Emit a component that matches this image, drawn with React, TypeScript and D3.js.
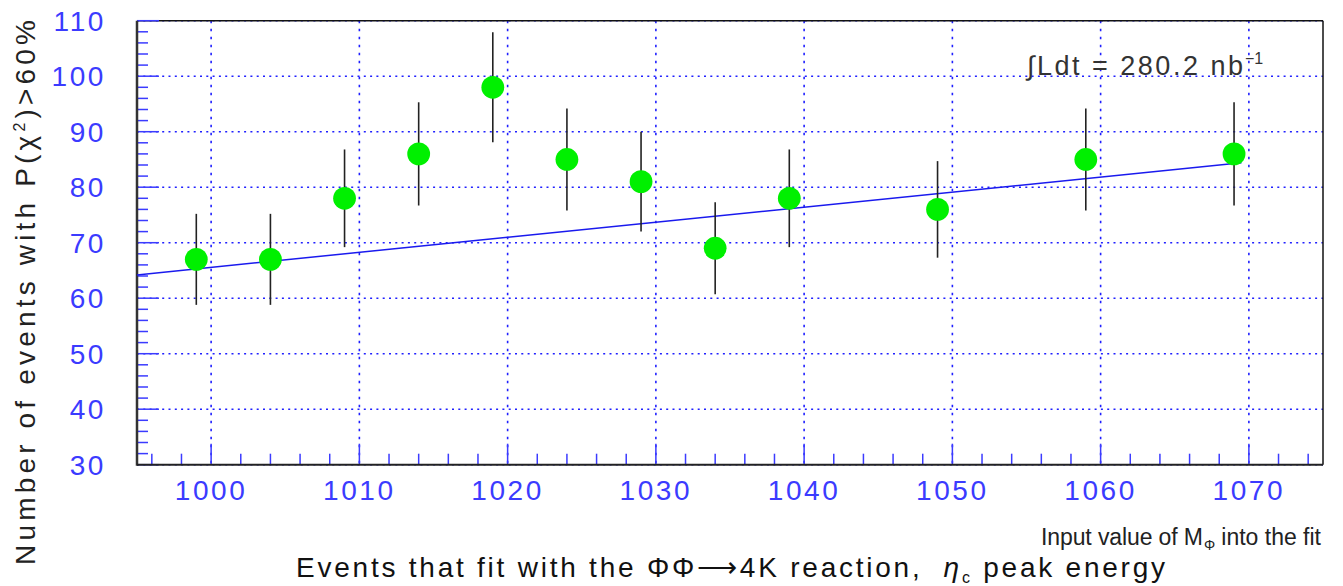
import React from "react";
import * as d3 from "d3";

const massValues = [999, 1004, 1009, 1014, 1019, 1024, 1029, 1034, 1039, 1049, 1059, 1069];
const eventCounts = [67, 67, 78, 86, 98, 85, 81, 69, 78, 76, 85, 86];
const eventErrors = [8.2, 8.2, 8.8, 9.3, 9.9, 9.2, 9.0, 8.3, 8.8, 8.7, 9.2, 9.3];
const fitX = [995, 1069.5];
const fitY = [64.2, 84.4];
const xTicks = [1000, 1010, 1020, 1030, 1040, 1050, 1060, 1070];
const yTicks = [30, 40, 50, 60, 70, 80, 90, 100, 110];

const W = 1343;
const H = 586;
const L = 137, R = 1323, T = 20.7, B = 464.7;
const FONT = "'Liberation Sans', Arial, sans-serif";

export default function App() {
  const x = d3.scaleLinear().domain([995, 1075]).range([L, R]);
  const y = d3.scaleLinear().domain([30, 110]).range([B, T]);
  const xMinor = d3.range(996, 1075, 2).filter((v) => v % 10 !== 0);
  const yMinor = d3.range(32, 110, 2).filter((v) => v % 10 !== 0);
  const line = d3
    .line<number>()
    .x((d) => x(d))
    .y((_, i) => y(fitY[i]));
  const blue = "#3b3bff";
  return (
    <svg
      width={W}
      height={H}
      style={{ position: "absolute", left: 0, top: 0, background: "#fff" }}
    >
      <rect x={0} y={0} width={W} height={H} fill="#fff" />
      {/* grid */}
      {xTicks.map((t) => (
        <line key={"gx" + t} x1={x(t)} x2={x(t)} y1={T} y2={B} stroke="#2020ff" strokeWidth={1.6} strokeDasharray="2.5,5.5" />
      ))}
      {yTicks.map((t) => (
        <line key={"gy" + t} x1={L} x2={R} y1={y(t)} y2={y(t)} stroke="#2020ff" strokeWidth={1.6} strokeDasharray="2,4.3" />
      ))}
      {/* frame */}
      <line x1={L} x2={R} y1={T} y2={T} stroke="#111" strokeWidth={1.5} />
      <line x1={R} x2={R} y1={T} y2={B} stroke="#111" strokeWidth={1.5} />
      {/* ticks */}
      {xTicks.map((t) => (
        <line key={"tx" + t} x1={x(t)} x2={x(t)} y1={B} y2={B - 21} stroke={blue} strokeWidth={1.5} />
      ))}
      {xMinor.map((t) => (
        <line key={"mx" + t} x1={x(t)} x2={x(t)} y1={B} y2={B - 11} stroke={blue} strokeWidth={1.5} />
      ))}
      {yTicks.map((t) => (
        <line key={"ty" + t} x1={L} x2={L + 22} y1={y(t)} y2={y(t)} stroke={blue} strokeWidth={1.5} />
      ))}
      {yMinor.map((t) => (
        <line key={"my" + t} x1={L} x2={L + 11} y1={y(t)} y2={y(t)} stroke={blue} strokeWidth={1.5} />
      ))}
      <line x1={L} x2={L} y1={T} y2={B + 1} stroke="#333" strokeWidth={2.5} />
      <line x1={L} x2={R} y1={B} y2={B} stroke="#222" strokeWidth={2} />
      {/* tick labels */}
      {xTicks.map((t) => (
        <text key={"lx" + t} x={x(t)} y={500} textAnchor="middle" fill={blue} fontFamily={FONT} fontSize={28} letterSpacing={2.6}>
          {t}
        </text>
      ))}
      {yTicks.map((t) => (
        <text key={"ly" + t} x={106} y={y(t) + 10} textAnchor="end" fill={blue} fontFamily={FONT} fontSize={28} letterSpacing={2.6}>
          {t}
        </text>
      ))}
      {/* fit line */}
      <path d={line(fitX) || ""} fill="none" stroke="#1a1aee" strokeWidth={1.5} />
      {/* error bars and points */}
      {massValues.map((m, i) => (
        <line key={"e" + i} x1={x(m)} x2={x(m)} y1={y(eventCounts[i] - eventErrors[i])} y2={y(eventCounts[i] + eventErrors[i])} stroke="#222" strokeWidth={1.6} />
      ))}
      {massValues.map((m, i) => (
        <circle key={"p" + i} cx={x(m)} cy={y(eventCounts[i])} r={11.4} fill="#00f000" />
      ))}
      {/* annotation */}
      <text x={1027} y={75} fill="#333" fontFamily={FONT} fontSize={27} textLength={216} lengthAdjust="spacing">
        ∫Ldt = 280.2 nb
      </text>
      <text x={1245} y={64} fill="#333" fontFamily={FONT} fontSize={16}>
        −1
      </text>
      {/* axis titles */}
      <text x={1041} y={545} fill="#222" fontFamily={FONT} fontSize={23} textLength={162} lengthAdjust="spacing">
        Input value of M
      </text>
      <text x={1204} y={550} fill="#222" fontFamily={FONT} fontSize={14}>
        Φ
      </text>
      <text x={1321} y={545} textAnchor="end" fill="#222" fontFamily={FONT} fontSize={23}>
        into the fit
      </text>
      <text transform="translate(35,565) rotate(-90)" fill="#222" fontFamily={FONT} fontSize={28} textLength={545} lengthAdjust="spacing">
        Number of events with P(χ<tspan dy={-10} fontSize={16}>2</tspan>
        <tspan dy={10}>)&gt;60%</tspan>
      </text>
      <text x={296} y={577} fill="#111" fontFamily={FONT} fontSize={28} textLength={869} lengthAdjust="spacing">
        {"Events that fit with the ΦΦ⟶4K reaction,\u00A0\u00A0"}
        <tspan fontStyle="italic">η</tspan>
        <tspan dy={6} fontSize={16}>c</tspan>
        <tspan dy={-6}> peak energy</tspan>
      </text>
    </svg>
  );
}
